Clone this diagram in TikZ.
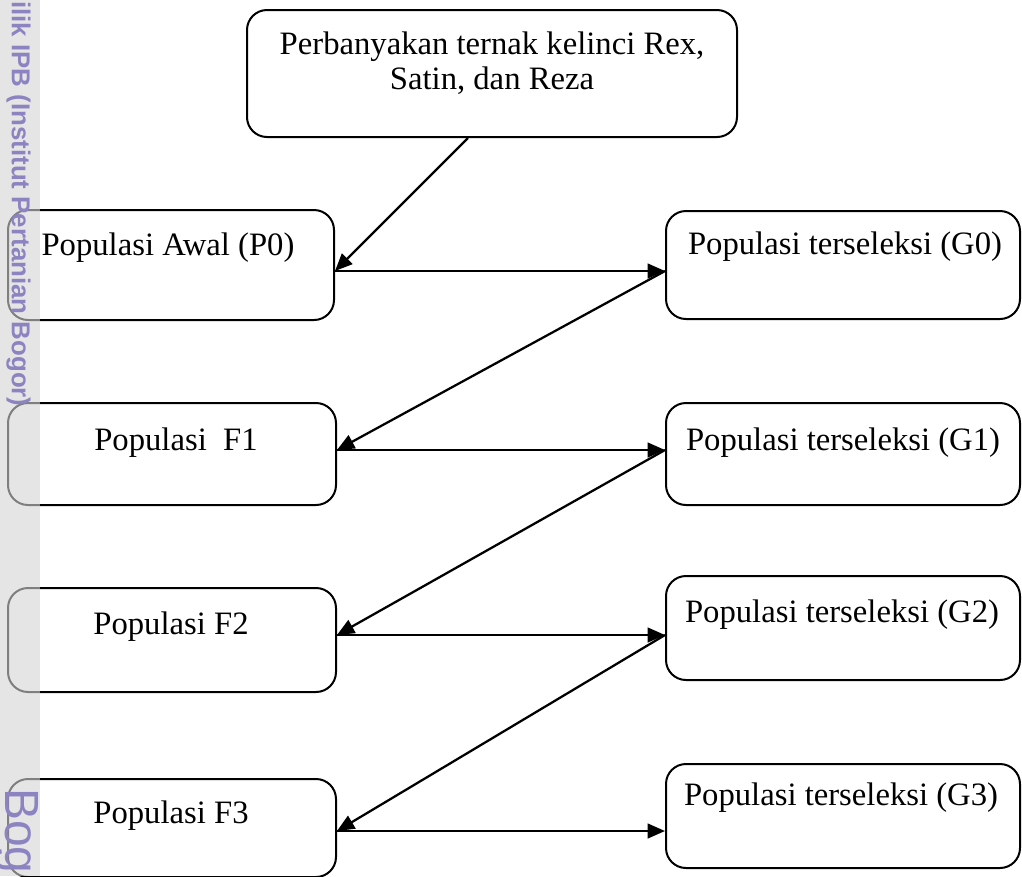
\documentclass[tikz,border=0pt]{standalone}
\usepackage{fontspec}
\setmainfont{Liberation Serif}
\newfontfamily\wmfont{Liberation Sans}
\usetikzlibrary{arrows.meta}
\definecolor{wmgray}{gray}{0.833}
\definecolor{wmtext}{RGB}{140,132,192}
\begin{document}
\begin{tikzpicture}[x=0.75pt,y=-0.75pt,
  box/.style={draw, line width=1.5pt, rounded corners=15pt, inner sep=0pt, fill=white},
  lbl/.style={anchor=base, font=\fontsize{24.5}{26.25}\selectfont, inner sep=0pt},
  arr/.style={-{Triangle[length=13pt,width=11pt]}, line width=1.7pt},
  wm/.style={rotate=-90, anchor=base west, inner sep=0pt, text=wmtext}]
\useasboundingbox (0,0) rectangle (1022,876);

% boxes
\node[box, minimum width=367.5pt, minimum height=95.25pt] (top) at (492,73.5) {};
\node[box, minimum width=244.5pt, minimum height=82.5pt] (p0) at (171,265) {};
\node[box, minimum width=246pt, minimum height=76.5pt] (f1) at (172,454) {};
\node[box, minimum width=246pt, minimum height=78pt] (f2) at (172,640) {};
\node[box, minimum width=246pt, minimum height=73.5pt] (f3) at (172,828) {};
\node[box, minimum width=265.5pt, minimum height=81pt] (g0) at (843,265) {};
\node[box, minimum width=265.5pt, minimum height=76.5pt] (g1) at (843,454) {};
\node[box, minimum width=265.5pt, minimum height=78pt] (g2) at (843,628) {};
\node[box, minimum width=265.5pt, minimum height=78pt] (g3) at (843,816) {};

% labels
\node[lbl] (ttop) at (492,54) {\begin{tabular}[t]{@{}c@{}}Perbanyakan ternak kelinci Rex,\\ Satin, dan Reza\end{tabular}};
\node[lbl] (tp0) at (168,255) {Populasi Awal (P0)};
\node[lbl] (tf1) at (176,450) {Populasi\ \ F1};
\node[lbl] (tf2) at (171,634) {Populasi F2};
\node[lbl] (tf3) at (171,823) {Populasi F3};
\node[lbl] (tg0) at (845,254) {Populasi terseleksi (G0)};
\node[lbl] (tg1) at (843,450) {Populasi terseleksi (G1)};
\node[lbl] (tg2) at (842,622) {Populasi terseleksi (G2)};
\node[lbl] (tg3) at (841,805) {Populasi terseleksi (G3)};

% connectors
\draw[arr] ([xshift=-18pt]top.south) -- ([yshift=-4.5pt]p0.east);
\draw[arr] ([yshift=-4.5pt]p0.east) -- ([yshift=-4.5pt]g0.west);
\draw[arr] ([yshift=-4.5pt]g0.west) -- ([yshift=3pt]f1.east);
\draw[arr] ([yshift=3pt]f1.east) -- ([yshift=3pt]g1.west);
\draw[arr] ([yshift=3pt]g1.west) -- ([yshift=3.75pt]f2.east);
\draw[arr] ([yshift=3.75pt]f2.east) -- ([yshift=-5.25pt]g2.west);
\draw[arr] ([yshift=-5.25pt]g2.west) -- ([yshift=-2.25pt]f3.east);
\draw[arr] ([yshift=-2.25pt]f3.east) -- ([yshift=-11.25pt]g3.west);

% watermark
\begin{scope}
\clip (0,0) rectangle (1022,876);
\fill[wmgray, opacity=0.6] (0,0) rectangle (40,876);
\node[wm, font=\wmfont\bfseries\fontsize{19.4}{20}\selectfont] (wm1) at (12,1) {ilik IPB (Institut Pertanian Bogor)};
\node[wm, font=\wmfont\fontsize{36}{38}\selectfont] (wm2) at (6,788) {Bog};
\end{scope}
\end{tikzpicture}
\end{document}
